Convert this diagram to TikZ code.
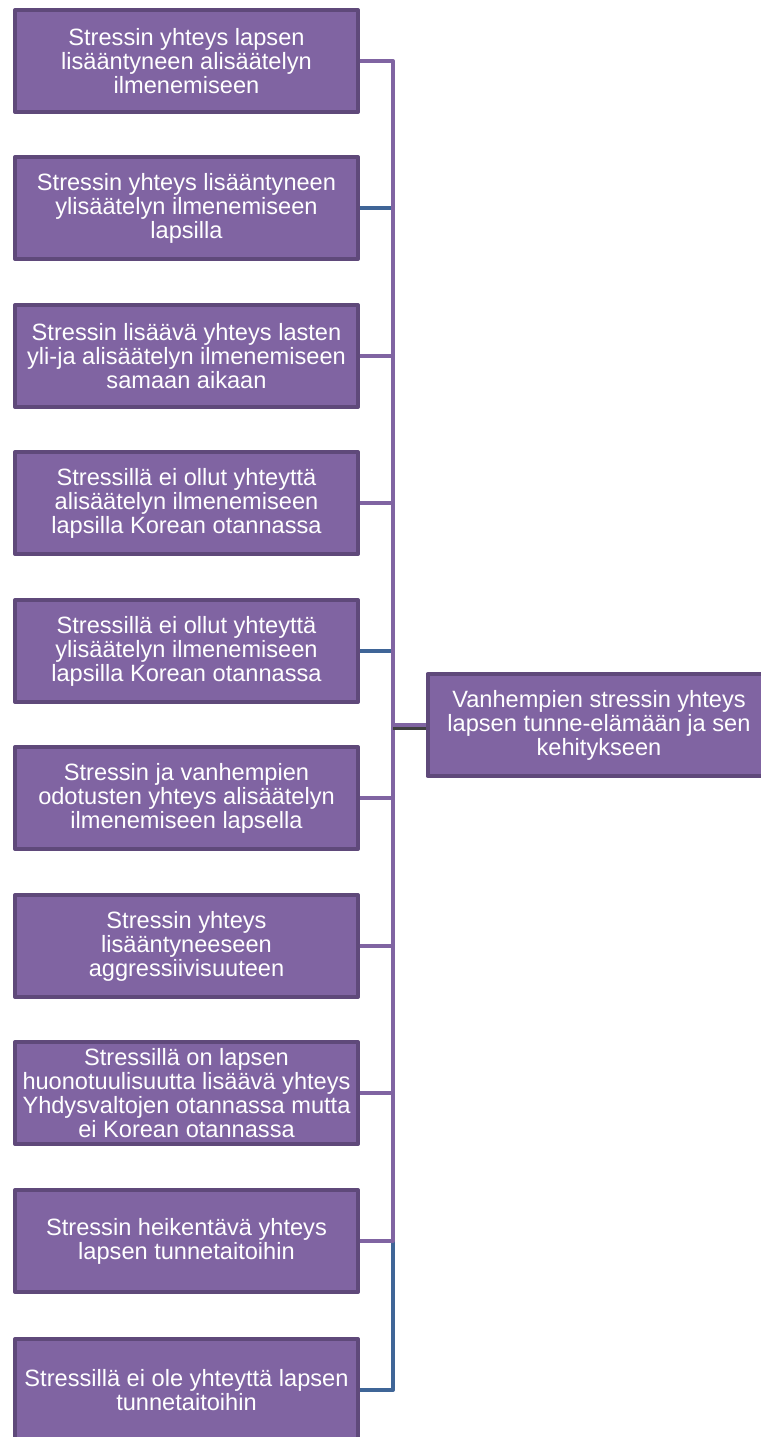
\documentclass[tikz,border=0pt]{standalone}
\usepackage{fontspec}
\setmainfont{Liberation Sans}
\definecolor{boxfill}{HTML}{8064A2}
\definecolor{boxline}{HTML}{5F497A}
\definecolor{linkblue}{HTML}{3F6597}
\begin{document}
\begin{tikzpicture}[x=0.5pt,y=-0.5pt,line join=round]
	\tikzset{leaf/.style={draw=boxline,fill=boxfill,line width=2pt,
			minimum width=171.5pt,minimum height=51pt,
			align=center,text=white,inner sep=0pt,
			font=\fontsize{11.8}{12}\selectfont},
		purplelink/.style={draw=boxfill,line width=2pt},
		bluelink/.style={draw=linkblue,line width=2pt}}
	\useasboundingbox (0,0) rectangle (761,1437);
	\def\lx{186.5}\def\busx{393}
	% left column
	\node[leaf] (b1) at (\lx,61) {Stressin yhteys lapsen\\lisääntyneen alisäätelyn\\ilmenemiseen};
	\node[leaf] (b2) at (\lx,208) {Stressin yhteys lisääntyneen\\ylisäätelyn ilmenemiseen\\lapsilla};
	\node[leaf] (b3) at (\lx,356) {Stressin lisäävä yhteys lasten\\yli-ja alisäätelyn ilmenemiseen\\samaan aikaan};
	\node[leaf] (b4) at (\lx,503) {Stressillä ei ollut yhteyttä\\alisäätelyn ilmenemiseen\\lapsilla Korean otannassa};
	\node[leaf] (b5) at (\lx,651) {Stressillä ei ollut yhteyttä\\ylisäätelyn ilmenemiseen\\lapsilla Korean otannassa};
	\node[leaf] (b6) at (\lx,798) {Stressin ja vanhempien\\odotusten yhteys alisäätelyn\\ilmenemiseen lapsella};
	\node[leaf] (b7) at (\lx,946) {Stressin yhteys\\lisääntyneeseen\\aggressiivisuuteen};
	\node[leaf] (b8) at (\lx,1093) {Stressillä on lapsen\\huonotuulisuutta lisäävä yhteys\\Yhdysvaltojen otannassa mutta\\ei Korean otannassa};
	\node[leaf] (b9) at (\lx,1241) {Stressin heikentävä yhteys\\lapsen tunnetaitoihin};
	\node[leaf] (b10) at (\lx,1390) {Stressillä ei ole yhteyttä lapsen\\tunnetaitoihin};
	% root
	\node[leaf] (root) at (599,725) {Vanhempien stressin yhteys\\lapsen tunne-elämään ja sen\\kehitykseen};
	\coordinate (bus) at (\busx,725);
	% connectors
	\foreach \b in {b2,b5,b10}
	\draw[bluelink] (bus) |- (\b.east);
	\foreach \b in {b1,b3,b4,b6,b7,b8,b9}
	\draw[purplelink] (bus) |- (\b.east);
	\draw[line width=2pt,black!75] ([yshift=-1.5pt]bus) -- ([yshift=-1.5pt]root.west);
	\draw[purplelink] (bus) -- (root.west);
\end{tikzpicture}
\end{document}
